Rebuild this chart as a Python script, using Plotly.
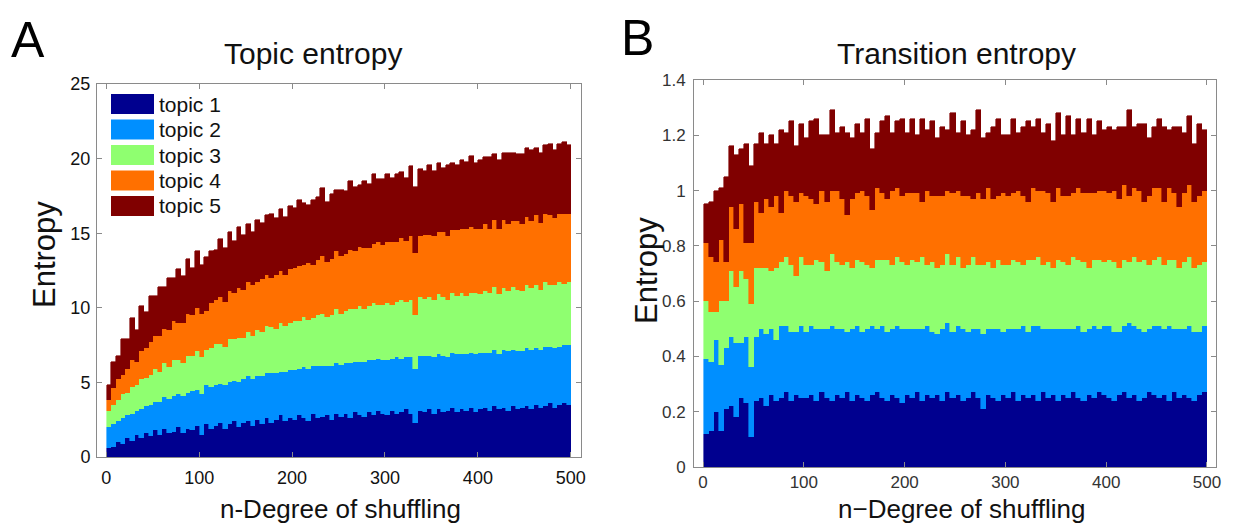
import plotly.graph_objects as go

# ---------------- data ----------------
topics = ["topic 1", "topic 2", "topic 3", "topic 4", "topic 5"]
colors = ["#00008F", "#008FFF", "#8FFF70", "#FF7000", "#800000"]

# degree of shuffling (bar centres, each bar covers 5 degrees)
degree = list(range(3, 501, 5))

# Panel A: topic entropy, height of each topic's segment
topicA_1 = [0.6, 0.7, 1.0, 0.9, 1.3, 1.1, 1.5, 1.3, 1.6, 1.4,
            1.8, 1.5, 1.9, 1.6, 1.7, 2.0, 1.6, 1.9, 1.8, 2.1,
            1.5, 2.2, 1.9, 2.1, 2.3, 1.9, 2.2, 2.4, 2.0, 2.3,
            2.4, 2.1, 2.5, 2.2, 2.6, 2.3, 2.5, 2.8, 2.4, 2.6,
            2.5, 2.8, 2.6, 2.4, 2.9, 2.6, 2.7, 2.8, 2.5, 2.9,
            2.7, 2.9, 2.6, 3.0, 2.8, 2.7, 3.0, 2.8, 3.1, 2.9,
            2.8, 3.1, 2.9, 3.0, 3.2, 2.9, 2.3, 3.1, 3.0, 3.2,
            2.9, 3.2, 3.0, 3.1, 3.3, 3.0, 3.2, 3.1, 3.3, 3.0,
            3.2, 3.3, 3.1, 3.4, 3.2, 3.3, 3.1, 3.4, 3.2, 3.3,
            3.4, 3.2, 3.5, 3.3, 3.4, 3.6, 3.3, 3.5, 3.6, 3.5]
topicA_2 = [1.4, 1.5, 1.4, 1.7, 1.5, 1.8, 1.6, 1.9, 1.8, 2.1,
            1.9, 2.2, 2.1, 2.3, 2.4, 2.2, 2.5, 2.4, 2.6, 2.4,
            2.7, 2.6, 2.8, 2.7, 2.6, 2.9, 2.8, 2.7, 3.0, 2.9,
            3.0, 3.1, 2.9, 3.2, 3.0, 3.3, 3.1, 2.9, 3.3, 3.2,
            3.3, 3.1, 3.4, 3.5, 3.2, 3.5, 3.4, 3.3, 3.6, 3.4,
            3.5, 3.4, 3.7, 3.4, 3.6, 3.7, 3.5, 3.7, 3.5, 3.6,
            3.7, 3.5, 3.8, 3.6, 3.5, 3.8, 3.6, 3.7, 3.8, 3.6,
            3.8, 3.7, 3.8, 3.6, 3.7, 3.9, 3.7, 3.8, 3.7, 3.9,
            3.8, 3.7, 3.9, 3.8, 3.7, 3.9, 4.0, 3.8, 3.9, 3.8,
            3.9, 4.0, 3.8, 3.9, 4.0, 3.8, 4.0, 3.9, 3.9, 4.0]
topicA_3 = [1.1, 1.3, 1.4, 1.6, 1.5, 1.8, 1.7, 2.0, 1.9, 2.0,
            2.2, 2.0, 2.3, 2.1, 2.4, 2.3, 2.2, 2.5, 2.4, 2.6,
            2.5, 2.4, 2.6, 2.8, 2.7, 2.6, 2.9, 2.8, 3.0, 2.8,
            3.0, 2.9, 3.1, 3.0, 3.2, 3.1, 3.0, 3.3, 3.1, 3.2,
            3.3, 3.2, 3.4, 3.3, 3.2, 3.4, 3.5, 3.3, 3.4, 3.6,
            3.4, 3.5, 3.6, 3.5, 3.7, 3.5, 3.6, 3.8, 3.6, 3.7,
            3.8, 3.6, 3.7, 3.9, 3.7, 3.8, 3.6, 3.9, 3.8, 3.9,
            3.8, 4.0, 3.9, 3.8, 4.0, 3.9, 4.1, 3.9, 4.0, 4.1,
            3.9, 4.1, 4.0, 4.2, 4.0, 4.1, 4.0, 4.2, 4.1, 4.0,
            4.2, 4.1, 4.2, 4.0, 4.3, 4.1, 4.2, 4.3, 4.1, 4.2]
topicA_4 = [0.7, 1.1, 1.4, 1.3, 1.6, 1.8, 1.6, 1.9, 2.0, 2.2,
            2.2, 2.4, 2.3, 2.5, 2.6, 2.5, 2.7, 2.8, 2.7, 2.9,
            2.9, 2.6, 3.0, 2.9, 3.1, 3.0, 3.2, 3.1, 3.3, 3.2,
            3.3, 3.4, 3.2, 3.5, 3.4, 3.3, 3.6, 3.5, 3.4, 3.6,
            3.6, 3.7, 3.5, 3.8, 3.6, 3.7, 3.9, 3.7, 3.8, 3.9,
            3.9, 3.8, 4.0, 3.9, 4.0, 4.1, 3.9, 4.0, 4.2, 4.0,
            4.1, 4.2, 4.0, 4.2, 4.1, 4.3, 4.2, 4.1, 4.3, 4.2,
            4.3, 4.2, 4.4, 4.3, 4.2, 4.4, 4.3, 4.5, 4.4, 4.3,
            4.4, 4.5, 4.3, 4.5, 4.4, 4.6, 4.5, 4.4, 4.6, 4.5,
            4.6, 4.5, 4.7, 4.5, 4.6, 4.7, 4.5, 4.6, 4.7, 4.6]
topicA_5 = [1.0, 1.8, 1.6, 2.4, 2.0, 2.8, 2.1, 3.0, 2.4, 3.1,
            2.7, 3.3, 2.8, 3.5, 2.9, 3.6, 3.1, 3.7, 3.2, 3.8,
            3.3, 3.6, 3.5, 3.4, 3.9, 3.6, 4.0, 3.5, 4.1, 3.7,
            3.9, 3.6, 4.2, 3.8, 4.0, 4.3, 3.8, 4.1, 3.9, 4.2,
            4.0, 4.4, 4.1, 3.9, 4.3, 4.2, 4.5, 4.0, 4.3, 4.1,
            4.4, 4.2, 4.6, 4.3, 4.1, 4.5, 4.3, 4.7, 4.2, 4.4,
            4.6, 4.3, 4.6, 4.4, 4.2, 4.7, 4.4, 4.5, 4.3, 4.7,
            4.4, 4.6, 4.3, 4.8, 4.5, 4.4, 4.6, 4.5, 4.8, 4.4,
            4.6, 4.5, 4.8, 4.4, 4.6, 4.5, 4.8, 4.6, 4.5, 4.7,
            4.6, 4.8, 4.5, 4.7, 4.6, 4.8, 4.6, 4.7, 4.8, 4.6]

# Panel B: transition entropy, height of each topic's segment
topicB_1 = [0.12, 0.13, 0.20, 0.13, 0.21, 0.22, 0.18, 0.25, 0.23, 0.11,
            0.24, 0.25, 0.22, 0.26, 0.24, 0.25, 0.27, 0.24, 0.26, 0.25,
            0.25, 0.26, 0.24, 0.27, 0.25, 0.24, 0.26, 0.25, 0.27, 0.24,
            0.26, 0.25, 0.24, 0.26, 0.27, 0.25, 0.24, 0.26, 0.25, 0.23,
            0.26, 0.25, 0.27, 0.24, 0.26, 0.25, 0.26, 0.24, 0.27, 0.25,
            0.26, 0.24, 0.25, 0.27, 0.25, 0.21, 0.26, 0.25, 0.24, 0.26,
            0.25, 0.27, 0.24, 0.26, 0.25, 0.26, 0.24, 0.27, 0.25, 0.26,
            0.24, 0.26, 0.25, 0.27, 0.25, 0.24, 0.26, 0.25, 0.27, 0.26,
            0.25, 0.24, 0.26, 0.27, 0.25, 0.26, 0.24, 0.25, 0.27, 0.26,
            0.25, 0.26, 0.24, 0.27, 0.25, 0.26, 0.25, 0.24, 0.26, 0.27]
topicB_2 = [0.27, 0.25, 0.26, 0.24, 0.22, 0.25, 0.27, 0.20, 0.24, 0.25,
            0.23, 0.25, 0.26, 0.24, 0.22, 0.26, 0.24, 0.25, 0.23, 0.26,
            0.24, 0.25, 0.26, 0.23, 0.25, 0.27, 0.24, 0.25, 0.22, 0.26,
            0.25, 0.24, 0.26, 0.25, 0.23, 0.26, 0.25, 0.24, 0.26, 0.27,
            0.24, 0.25, 0.23, 0.26, 0.25, 0.24, 0.22, 0.26, 0.25, 0.24,
            0.25, 0.26, 0.24, 0.23, 0.25, 0.27, 0.24, 0.25, 0.26, 0.23,
            0.25, 0.23, 0.26, 0.25, 0.24, 0.25, 0.27, 0.23, 0.25, 0.24,
            0.26, 0.24, 0.25, 0.23, 0.26, 0.25, 0.24, 0.26, 0.23, 0.25,
            0.26, 0.25, 0.23, 0.24, 0.27, 0.25, 0.26, 0.24, 0.23, 0.25,
            0.26, 0.24, 0.27, 0.23, 0.25, 0.24, 0.26, 0.25, 0.23, 0.24]
topicB_3 = [0.21, 0.18, 0.10, 0.23, 0.17, 0.24, 0.20, 0.26, 0.21, 0.23,
            0.25, 0.22, 0.24, 0.21, 0.26, 0.23, 0.25, 0.24, 0.20, 0.25,
            0.24, 0.22, 0.25, 0.24, 0.21, 0.26, 0.24, 0.23, 0.25, 0.22,
            0.24, 0.25, 0.23, 0.21, 0.25, 0.24, 0.26, 0.23, 0.25, 0.24,
            0.23, 0.25, 0.24, 0.26, 0.22, 0.25, 0.24, 0.23, 0.25, 0.24,
            0.25, 0.22, 0.24, 0.26, 0.23, 0.25, 0.24, 0.22, 0.25, 0.24,
            0.23, 0.25, 0.24, 0.22, 0.26, 0.24, 0.25, 0.23, 0.24, 0.22,
            0.25, 0.24, 0.23, 0.26, 0.24, 0.25, 0.22, 0.24, 0.25, 0.23,
            0.24, 0.25, 0.23, 0.24, 0.22, 0.25, 0.24, 0.26, 0.23, 0.24,
            0.25, 0.23, 0.24, 0.25, 0.22, 0.24, 0.25, 0.23, 0.24, 0.23]
topicB_4 = [0.21, 0.20, 0.18, 0.22, 0.14, 0.23, 0.21, 0.24, 0.13, 0.22,
            0.24, 0.20, 0.25, 0.23, 0.26, 0.18, 0.24, 0.25, 0.27, 0.23,
            0.25, 0.24, 0.20, 0.26, 0.25, 0.23, 0.26, 0.24, 0.17, 0.25,
            0.24, 0.26, 0.25, 0.21, 0.26, 0.24, 0.22, 0.27, 0.25, 0.24,
            0.26, 0.24, 0.25, 0.20, 0.27, 0.24, 0.26, 0.25, 0.23, 0.26,
            0.24, 0.26, 0.25, 0.21, 0.26, 0.24, 0.27, 0.25, 0.23, 0.26,
            0.25, 0.24, 0.26, 0.25, 0.21, 0.26, 0.24, 0.27, 0.25, 0.24,
            0.26, 0.24, 0.25, 0.23, 0.26, 0.25, 0.27, 0.24, 0.25, 0.26,
            0.24, 0.26, 0.25, 0.27, 0.24, 0.25, 0.26, 0.21, 0.25, 0.26,
            0.25, 0.23, 0.26, 0.24, 0.22, 0.25, 0.26, 0.24, 0.25, 0.26]
topicB_5 = [0.14, 0.20, 0.26, 0.19, 0.31, 0.22, 0.27, 0.20, 0.36, 0.28,
            0.21, 0.29, 0.20, 0.26, 0.19, 0.30, 0.21, 0.27, 0.20, 0.25,
            0.21, 0.28, 0.31, 0.20, 0.24, 0.29, 0.21, 0.26, 0.30, 0.22,
            0.25, 0.21, 0.28, 0.22, 0.20, 0.26, 0.30, 0.21, 0.24, 0.28,
            0.22, 0.27, 0.21, 0.30, 0.22, 0.27, 0.21, 0.25, 0.22, 0.29,
            0.21, 0.27, 0.22, 0.25, 0.30, 0.22, 0.20, 0.26, 0.28, 0.21,
            0.22, 0.27, 0.21, 0.25, 0.29, 0.22, 0.26, 0.21, 0.25, 0.22,
            0.27, 0.22, 0.29, 0.21, 0.25, 0.22, 0.27, 0.21, 0.25, 0.22,
            0.24, 0.22, 0.26, 0.21, 0.31, 0.22, 0.24, 0.28, 0.21, 0.22,
            0.25, 0.27, 0.21, 0.24, 0.29, 0.22, 0.25, 0.21, 0.26, 0.22]

x_ticks = [0, 100, 200, 300, 400, 500]
yA_ticks = [0, 5, 10, 15, 20, 25]
yB_ticks = [0, 0.2, 0.4, 0.6, 0.8, 1, 1.2, 1.4]

panelA = [topicA_1, topicA_2, topicA_3, topicA_4, topicA_5]
panelB = [topicB_1, topicB_2, topicB_3, topicB_4, topicB_5]

# ---------------- figure ----------------
W, H = 1234, 532
OFF = 8  # page body margin
FONT = "Liberation Sans, Arial, sans-serif"

fig = go.Figure()
for name, col, vals in zip(topics, colors, panelA):
    fig.add_trace(go.Bar(x=degree, y=vals, name=name, width=5,
                         marker=dict(color=col, line=dict(color=col, width=0.6)),
                         xaxis="x", yaxis="y", showlegend=False))
for name, col, vals in zip(topics, colors, panelB):
    fig.add_trace(go.Bar(x=degree, y=vals, name=name, width=5,
                         marker=dict(color=col, line=dict(color=col, width=0.6)),
                         xaxis="x2", yaxis="y2", showlegend=False))

def px(v):
    return (v - OFF) / W

def py(v):
    return 1 - (v - OFF) / H

axis_common = dict(showline=True, linecolor="#8a8a8a", linewidth=1, mirror="ticks",
                   ticks="inside", ticklen=5, tickcolor="#8a8a8a", showgrid=False,
                   zeroline=False, automargin=False)

fig.update_layout(
    width=W, height=H,
    margin=dict(l=0, r=0, t=0, b=0, autoexpand=False),
    paper_bgcolor="white", plot_bgcolor="white",
    barmode="stack", bargap=0, showlegend=False,
    font=dict(family=FONT, color="#111"),
    xaxis=dict(domain=[px(97), px(581)], range=[-10, 511], tickvals=x_ticks,
               tickfont=dict(size=18, color="#111"), anchor="y", ticklabelstandoff=4,
               **axis_common),
    yaxis=dict(domain=[py(457), py(84)], range=[0, 25], tickvals=yA_ticks,
               tickfont=dict(size=18, color="#111"), anchor="x", ticklabelstandoff=2,
               **axis_common),
    xaxis2=dict(domain=[px(694), px(1216)], range=[-9, 509], tickvals=x_ticks,
                tickfont=dict(size=17, color="#333"), anchor="y2",
                **axis_common),
    yaxis2=dict(domain=[py(467), py(80)], range=[0, 1.4], tickvals=yB_ticks,
                tickfont=dict(size=17, color="#333"), anchor="x2", ticklabelstandoff=4,
                **axis_common),
)

annotations = [
    dict(text="A", x=px(28), y=py(40), font=dict(size=50, color="#000")),
    dict(text="B", x=px(637), y=py(38), font=dict(size=50, color="#000")),
    dict(text="Topic entropy", x=px(313), y=py(53), font=dict(size=30, color="#111")),
    dict(text="Transition entropy", x=px(956), y=py(53), font=dict(size=30, color="#111")),
    dict(text="n-Degree of shuffling", x=px(340), y=py(509), font=dict(size=26, color="#111")),
    dict(text="n\u2212Degree of shuffling", x=px(961), y=py(509), font=dict(size=26, color="#111")),
    dict(text="Entropy", x=px(44), y=py(255), textangle=-90, font=dict(size=31, color="#111")),
    dict(text="Entropy", x=px(646), y=py(271), textangle=-90, font=dict(size=31, color="#111")),
]

# legend drawn inside panel A (large swatches)
shapes = []
for k, (name, col) in enumerate(zip(topics, colors)):
    top = 94 + 25.5 * k
    shapes.append(dict(type="rect", xref="paper", yref="paper",
                       x0=px(111), x1=px(154), y0=py(top + 20), y1=py(top),
                       fillcolor=col, line=dict(width=0)))
    annotations.append(dict(text=name, x=px(157), y=py(top + 10), xanchor="left",
                            font=dict(size=21, color="#111")))

for a in annotations:
    a.setdefault("xref", "paper")
    a.setdefault("yref", "paper")
    a.setdefault("showarrow", False)
    a.setdefault("xanchor", "center")
    a.setdefault("yanchor", "middle")

fig.update_layout(annotations=annotations, shapes=shapes)

fig.write_html("out.html")
